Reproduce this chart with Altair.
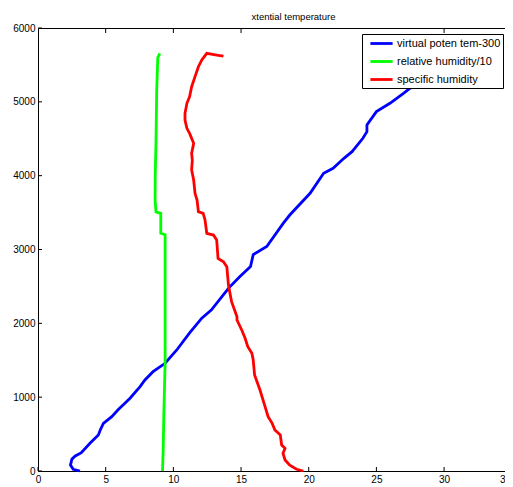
import altair as alt
import pandas as pd

# virtual potential temperature - 300
blue_alt = [0, 23, 80, 158, 200, 248, 375, 488, 555, 645, 736, 826, 985, 1142, 1233, 1345, 1459, 1639,
            1870, 2070, 2180, 2340, 2480, 2632, 2770, 2930, 3040, 3350, 3467, 3761, 4032, 4100, 4235,
            4325, 4506, 4596, 4686, 4867, 4980, 5115, 5273, 5400, 5520, 5650]
blue_val = [3.1, 2.6, 2.4, 2.5, 2.73, 3.2, 3.84, 4.46, 4.6, 4.83, 5.45, 5.9, 6.8, 7.54, 7.9, 8.5, 9.39, 10.25,
            11.2, 12.1, 12.8, 13.5, 14.1, 14.9, 15.7, 15.9, 16.9, 18.1, 18.6, 20.1, 21.1, 21.8, 22.6,
            23.2, 24.0, 24.3, 24.3, 25.0, 26.0, 27.0, 28.1, 28.9, 29.6, 30.3]

# relative humidity / 10
green_alt = [0, 300, 800, 1460, 2200, 3200, 3220, 3490, 3510, 3670, 4000, 4480, 5160, 5600, 5657]
green_val = [9.2, 9.25, 9.3, 9.39, 9.39, 9.39, 9.07, 9.07, 8.72, 8.65, 8.66, 8.72, 8.77, 8.85, 9.0]

# specific humidity
red_alt = [0, 23, 80, 150, 240, 307, 352, 488, 555, 645, 736, 917, 1097, 1300, 1503, 1594, 1684, 1797,
           1910, 2045, 2090, 2293, 2519, 2767, 2835, 2880, 3129, 3196, 3219, 3400, 3490, 3512, 3670,
           3761, 3941, 4077, 4212, 4302, 4438, 4573, 4641, 4754, 4844, 4980, 5070, 5205, 5341, 5476,
           5567, 5657, 5634, 5620]
red_val = [19.6, 19.1, 18.6, 18.25, 18.1, 18.25, 18.0, 17.9, 17.5, 17.3, 17.0, 16.7, 16.4, 16.0, 15.9, 15.8,
           15.5, 15.3, 15.05, 14.7, 14.7, 14.3, 14.07, 13.95, 13.7, 13.3, 13.2, 12.96, 12.47, 12.34, 12.2,
           11.85, 11.75, 11.6, 11.5, 11.35, 11.4, 11.35, 11.5, 11.2, 11.0, 10.86, 10.86, 11.0, 11.2, 11.35,
           11.6, 11.85, 12.1, 12.47, 13.2, 13.7]

series_names = ["virtual poten tem-300", "relative humidity/10", "specific humidity"]
series_colors = ["#0000FF", "#00FF00", "#FF0000"]

x_ticks_bottom = [0, 5, 10, 15, 20, 25, 30]
x_label_values = [0, 5, 10, 15, 20, 25, 30, 34.5]
x_ticks_top = [5, 10, 15, 30]
y_ticks = [0, 1000, 2000, 3000, 4000, 5000, 6000]

rows = []
for name, alts, vals in zip(series_names, [blue_alt, green_alt, red_alt], [blue_val, green_val, red_val]):
    for i, (a, v) in enumerate(zip(alts, vals)):
        rows.append({"series": name, "x": v, "y": a, "order": i})
df = pd.DataFrame(rows)

W, H = 467, 443
xscale = alt.Scale(domain=[0, 34.5], nice=False, zero=False)
yscale = alt.Scale(domain=[0, 6000], nice=False, zero=False)
FONT = "Liberation Sans"

yaxis = alt.Axis(values=y_ticks, title=None, ticks=False, domain=True, domainColor="black",
                 labelColor="black", labelFontSize=10, labelFont=FONT, labelPadding=3,
                 grid=False, format="d")

xaxis = alt.Axis(orient="bottom", values=x_label_values, title=None, ticks=False,
                 domain=True, domainColor="black", labelColor="black", labelFontSize=10,
                 labelFont=FONT, labelPadding=3, grid=False, format="d",
                 labelExpr="datum.value == 34.5 ? '3' : datum.label",
                 labelAlign={"condition": {"test": "datum.value == 34.5", "value": "right"},
                             "value": "center"})

lines = alt.Chart(df).mark_line(strokeWidth=2.8).encode(
    x=alt.X("x:Q", scale=xscale, axis=xaxis),
    y=alt.Y("y:Q", scale=yscale, axis=yaxis),
    color=alt.Color("series:N",
                    scale=alt.Scale(domain=series_names, range=series_colors),
                    sort=series_names,
                    legend=alt.Legend(title=None, orient="none", legendX=324, legendY=6,
                                      symbolType="M-1.85,0L1.85,0", symbolSize=144,
                                      symbolStrokeWidth=2.8,
                                      labelFontSize=11, labelFont=FONT, labelColor="black",
                                      strokeColor="black", fillColor="white", padding=2,
                                      rowPadding=4, labelLimit=300, cornerRadius=0,
                                      symbolOffset=10, labelOffset=8)),
    order="order:Q",
)

top_frame = alt.Chart(pd.DataFrame({"x": x_ticks_top})).mark_rule(color="black").encode(
    x=alt.X("x:Q", scale=xscale,
            axis=alt.Axis(orient="top", labels=False, ticks=False, domain=True,
                          domainColor="black", title=None, grid=False)),
    y=alt.value(0), y2=alt.value(5),
)

bottom_ticks = alt.Chart(pd.DataFrame({"x": x_ticks_bottom})).mark_rule(color="black").encode(
    x=alt.X("x:Q", scale=xscale, axis=None), y=alt.value(H), y2=alt.value(H - 4),
)

left_ticks = alt.Chart(pd.DataFrame({"y": y_ticks})).mark_rule(color="black").encode(
    y=alt.Y("y:Q", scale=yscale, axis=yaxis), x=alt.value(0), x2=alt.value(4),
)

chart = alt.layer(lines, top_frame, bottom_ticks, left_ticks).resolve_axis(x="independent").properties(
    width=W, height=H,
    title=alt.Title("xtential temperature", fontSize=9.5, font=FONT, fontWeight="normal",
                    color="black", dx=22, offset=2),
    autosize=alt.AutoSizeParams(type="none"),
    padding={"left": 30, "top": 20, "right": 0, "bottom": 15},
).configure_view(stroke=None).configure(background="white")

chart.save("out.html", embed_options={"renderer": "svg", "actions": False})
